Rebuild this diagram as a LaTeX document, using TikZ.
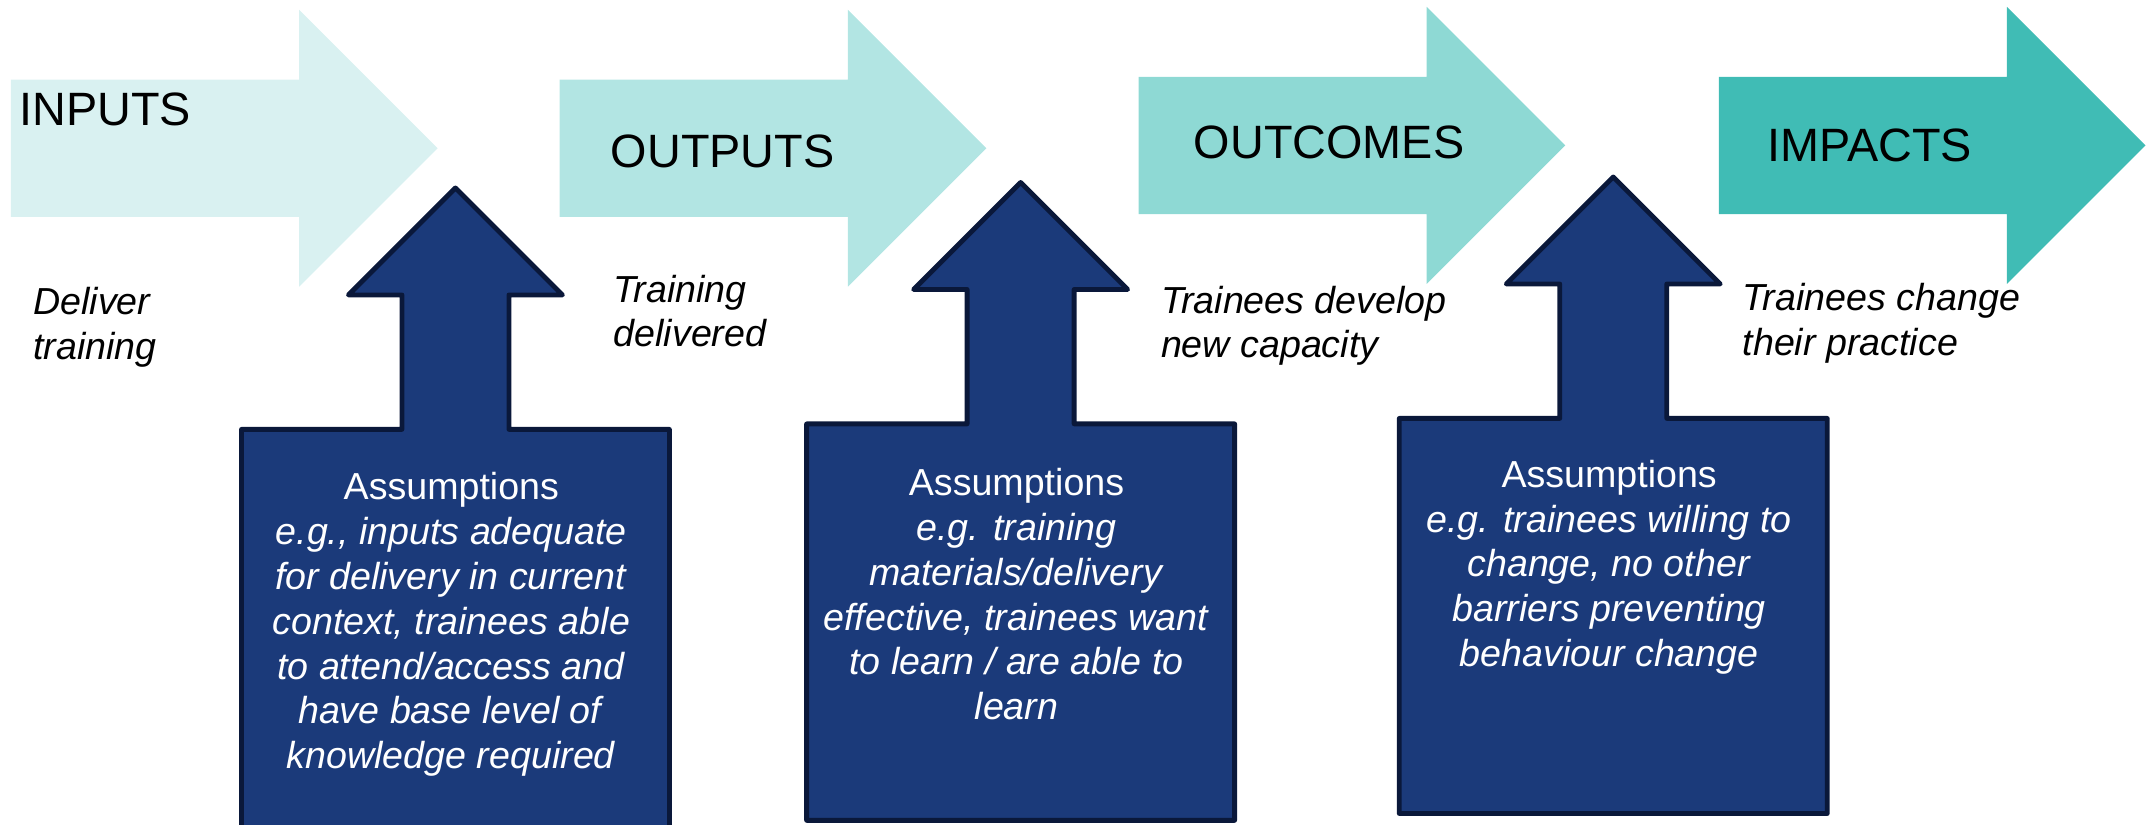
\documentclass[tikz,border=0pt]{standalone}
\usepackage{fontspec}
\setmainfont{Liberation Sans}
\usetikzlibrary{positioning}

\definecolor{stageA}{RGB}{217,241,241}
\definecolor{stageB}{RGB}{178,229,227}
\definecolor{stageC}{RGB}{142,217,212}
\definecolor{stageD}{RGB}{64,188,181}
\definecolor{navy}{RGB}{27,58,122}
\definecolor{navyline}{RGB}{10,24,58}

\begin{document}
\begin{tikzpicture}[x=0.2mm,y=-0.2mm,
    stage/.style={font=\fontsize{19.4}{23}\selectfont,anchor=west,inner sep=0pt},
    effect/.style={font=\fontsize{15.6}{18.6}\selectfont\itshape,anchor=north west,align=left,inner sep=0pt},
    assume/.style={font=\fontsize{15.6}{18.6}\selectfont,text=white,anchor=north,align=center,inner sep=0pt},
    upbox/.style={fill=navy,draw=navyline,line width=2pt,line join=round}]
\useasboundingbox (0,0) rectangle (1568,601);

% stage arrows
\foreach \x/\y/\col in {8/58/stageA,408/58/stageB,830/56/stageC,1253/56/stageD}
  \fill[\col] (\x,\y) -- ++(210,0) -- ++(0,-51) -- ++(101,101) -- ++(-101,101)
    -- ++(0,-51) -- ++(-210,0) -- cycle;

% assumption arrows
\foreach \c/\t/\b in {332/137/605,744/133/598,1176/129/593}
  \draw[upbox] (\c,\t) -- (\c+78,\t+78) -- (\c+39,\t+78) -- (\c+39,\t+176)
    -- (\c+156,\t+176) -- (\c+156,\b) -- (\c-156,\b) -- (\c-156,\t+176) -- (\c-39,\t+176)
    -- (\c-39,\t+78) -- (\c-78,\t+78) -- cycle;

\node[stage] (inputs)   at (14,80)    {INPUTS};
\node[stage] (outputs)  at (445,110)  {OUTPUTS};
\node[stage] (outcomes) at (870,104)  {OUTCOMES};
\node[stage] (impacts)  at (1288,106) {IMPACTS};

\node[effect] (deliver)  at (24,209)   {Deliver\\training};
\node[effect] (delivered) at (447,200) {Training\\delivered};
\node[effect] (develop)  at (846,208)  {Trainees develop\\new capacity};
\node[effect] (change)   at (1270,206) {Trainees change\\their practice};

\node[assume] (asm_in) at (329,344) {Assumptions\\\textit{e.g., inputs adequate}\\
  \textit{for delivery in current}\\\textit{context, trainees able}\\
  \textit{to attend/access and}\\\textit{have base level of}\\\textit{knowledge required}};
\node[assume] (asm_out) at (741,341) {Assumptions\\\textit{e.g. training}\\
  \textit{materials/delivery}\\\textit{effective, trainees want}\\
  \textit{to learn / are able to}\\\textit{learn}};
\node[assume] (asm_oc) at (1173,335) {Assumptions\\\textit{e.g. trainees willing to}\\
  \textit{change, no other}\\\textit{barriers preventing}\\\textit{behaviour change}};
\end{tikzpicture}
\end{document}
